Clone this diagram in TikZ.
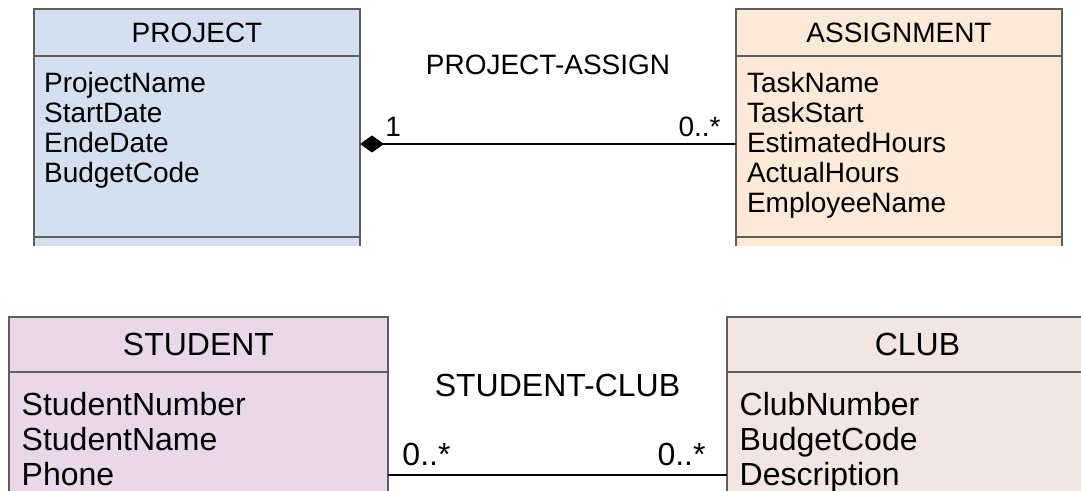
\documentclass[tikz,border=0pt]{standalone}
\usepackage{fontspec}
\setmainfont{Liberation Sans}
\usepackage{xcolor}
\usepackage{tikz}
\usetikzlibrary{arrows.meta}
\usetikzlibrary{positioning}
\definecolor{projblue}{HTML}{D4E0F0}
\definecolor{assignpeach}{HTML}{FDE9D7}
\definecolor{studlilac}{HTML}{E8D8EA}
\definecolor{clubbeige}{HTML}{F1E6E1}
\definecolor{edgegray}{HTML}{5E5E5E}

\tikzset{
  classbox/.style={draw=edgegray, line width=0.75pt, rectangle, outer sep=0pt, inner sep=0pt},
  toptext/.style={font=\fontsize{14}{15}\selectfont},
  bottext/.style={font=\fontsize{16}{17.5}\selectfont},
  attrs/.style={align=left, anchor=north west, inner sep=0pt},
  assoc/.style={draw=black, line width=0.8pt}
}

\begin{document}
\begin{tikzpicture}[x=0.5pt, y=-0.5pt]
\useasboundingbox (0,0) rectangle (1081,491);
\clip (0,0) rectangle (1081,491);

% upper pair, cut off below the second divider
\begin{scope}
\clip (0,0) rectangle (1081,245.6);
\foreach \n/\c/\x/\t in {
    project/projblue/34/PROJECT, assignment/assignpeach/736/ASSIGNMENT}{
  \node[classbox, toptext, fill=\c, minimum width=163pt, minimum height=23.5pt,
        anchor=north west] (\n) at (\x,9) {\t};
  \node[classbox, fill=\c, minimum width=163pt, minimum height=90.5pt,
        below=0pt of \n] (\n-attrs) {};
  \node[classbox, fill=\c, minimum width=163pt, minimum height=20pt,
        below=0pt of \n-attrs] (\n-ops) {};
}
\end{scope}

% lower pair
\foreach \n/\c/\x/\w/\t in {
    student/studlilac/9/189.5/STUDENT, club/clubbeige/727/190.5/CLUB}{
  \node[classbox, bottext, fill=\c, minimum width=\w pt, minimum height=27.5pt,
        anchor=north west] (\n) at (\x,317) {\t};
  \node[classbox, fill=\c, minimum width=\w pt, minimum height=75pt,
        below=0pt of \n] (\n-attrs) {};
}

\node[attrs, toptext, xshift=4.85pt, yshift=-8pt] (project-list)
    at (project-attrs.north west) {ProjectName\\StartDate\\EndeDate\\BudgetCode};
\node[attrs, toptext, xshift=5.3pt, yshift=-8pt] (assignment-list)
    at (assignment-attrs.north west)
    {TaskName\\TaskStart\\EstimatedHours\\ActualHours\\EmployeeName};
\node[attrs, bottext, xshift=6.15pt, yshift=-10pt] (student-list)
    at (student-attrs.north west) {StudentNumber\\StudentName\\Phone};
\node[attrs, bottext, xshift=6.15pt, yshift=-10pt] (club-list)
    at (club-attrs.north west) {ClubNumber\\BudgetCode\\Description};

% associations
\draw[assoc, {Diamond[length=12pt, width=8.5pt]}-]
    ([yshift=1.25pt]project-attrs.east) -- ([yshift=1.25pt]assignment-attrs.west)
    node[toptext, pos=0, anchor=south west, xshift=9pt] (project-mult) {1}
    node[toptext, pos=1, anchor=south east, xshift=-4pt] (assignment-mult) {0..*}
    node[toptext, midway, yshift=39.5pt] (project-assign) {PROJECT-ASSIGN};

\draw[assoc]
    ([yshift=-51.5pt]student-attrs.north east) -- ([yshift=-51.5pt]club-attrs.north west)
    node[bottext, pos=0, anchor=south west, xshift=3.5pt, yshift=0.8pt] (student-mult) {0..*}
    node[bottext, pos=1, anchor=south east, xshift=-7pt, yshift=0.8pt] (club-mult) {0..*}
    node[bottext, midway, yshift=45pt] (student-club) {STUDENT-CLUB};

\end{tikzpicture}
\end{document}
